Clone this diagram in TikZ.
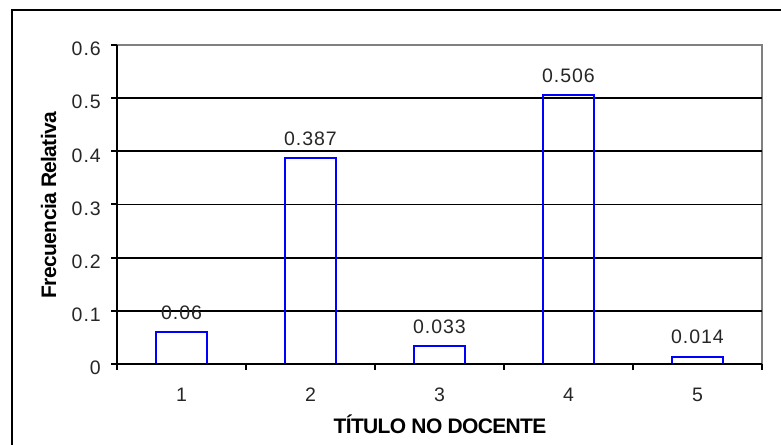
\documentclass[tikz,border=0pt]{standalone}
\usepackage{fontspec}
\setmainfont{Liberation Sans}
\newfontfamily\numfont[LetterSpace=5]{Liberation Sans}
\newfontfamily\titlefont[LetterSpace=-3]{Liberation Sans}
\begin{document}
\begin{tikzpicture}[x=1pt,y=1pt]
    \tikzstyle{every node}+=[inner sep=0pt]
    \tikzstyle{gridline}=[black, line width=1.8pt]
    \tikzstyle{axisline}=[black, line width=2pt]
    \tikzstyle{barbox}=[blue, line width=2pt]
    \tikzstyle{ticklabel}=[font=\numfont\fontsize{19.5}{22}\selectfont, text=black!85]
    \tikzstyle{axistitle}=[font=\titlefont\bfseries\fontsize{21}{24}\selectfont]
    \useasboundingbox (0,0) rectangle (781,444);
    % outer frame
    \draw [black, line width=2pt] (12,-10) -- (12,434) -- (800,434);
    % plot area and grid
    \draw [gray, line width=1.8pt] (117,399) -- (762,399) -- (762,80);
    \draw [gridline] (117,133.2) -- (762,133.2);
    \draw [gridline] (117,186.3) -- (762,186.3);
    \draw [gridline] (117,239.5) -- (762,239.5);
    \draw [gridline] (117,292.7) -- (762,292.7);
    \draw [gridline] (117,345.9) -- (762,345.9);
    % bars
    \draw [barbox] (156,80) rectangle (207,111.9);
    \draw [barbox] (285,80) rectangle (336,285.8);
    \draw [barbox] (414,80) rectangle (465,97.5);
    \draw [barbox] (543,80) rectangle (594,349);
    \draw [barbox] (672,80) rectangle (723,87.4);
    % axes
    \draw [axisline] (117,80) -- (117,399);
    \draw [axisline] (117,80) -- (762,80);
    \foreach \yy in {80,133.2,186.3,239.5,292.7,345.9,399}
        \draw [axisline] (111,\yy) -- (117,\yy);
    \foreach \xx in {117,246,375,504,633,762}
        \draw [axisline] (\xx,74) -- (\xx,80);
    % y tick labels
    \node [ticklabel, anchor=east] (y0) at (101,76) {0};
    \node [ticklabel, anchor=east] (y1) at (101,129.2) {0.1};
    \node [ticklabel, anchor=east] (y2) at (101,182.3) {0.2};
    \node [ticklabel, anchor=east] (y3) at (101,235.5) {0.3};
    \node [ticklabel, anchor=east] (y4) at (101,288.7) {0.4};
    \node [ticklabel, anchor=east] (y5) at (101,341.9) {0.5};
    \node [ticklabel, anchor=east] (y6) at (101,395) {0.6};
    % x tick labels
    \node [ticklabel] (x1) at (181.5,49) {1};
    \node [ticklabel] (x2) at (310.5,49) {2};
    \node [ticklabel] (x3) at (439.5,49) {3};
    \node [ticklabel] (x4) at (568.5,49) {4};
    \node [ticklabel] (x5) at (697.5,49) {5};
    % value labels
    \node [ticklabel, anchor=base] (v1) at (181.5,124) {0.06};
    \node [ticklabel, anchor=base] (v2) at (310.5,298) {0.387};
    \node [ticklabel, anchor=base] (v3) at (439.5,110) {0.033};
    \node [ticklabel, anchor=base] (v4) at (568.5,361) {0.506};
    \node [ticklabel, anchor=base] (v5) at (697.5,100) {0.014};
    % axis titles
    \node [axistitle, anchor=base] (xtitle) at (440,10) {TÍTULO NO DOCENTE};
    \node [axistitle, anchor=base, rotate=90] (ytitle) at (56,239) {Frecuencia Relativa};
\end{tikzpicture}
\end{document}
